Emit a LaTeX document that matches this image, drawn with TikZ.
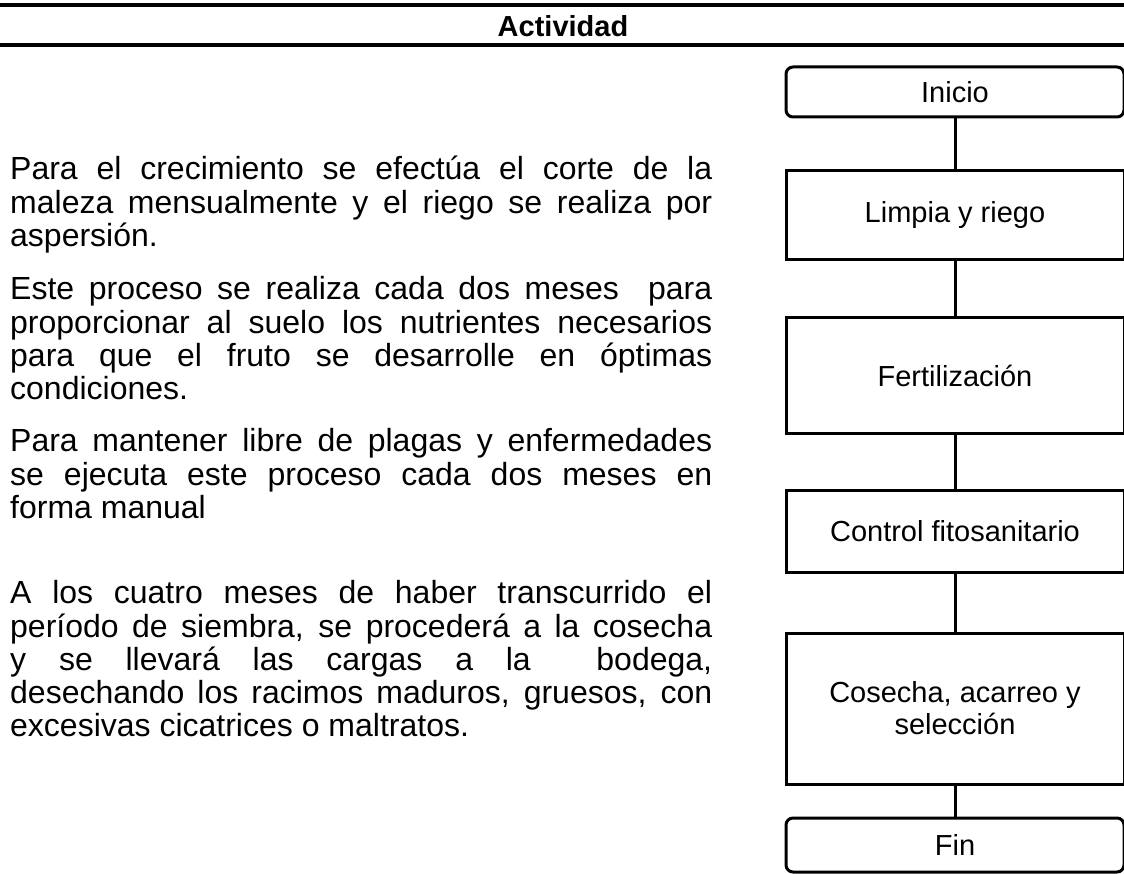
\documentclass[tikz,border=0pt]{standalone}
\usepackage{fontspec}
\setmainfont{Liberation Sans}
\usetikzlibrary{positioning}
\hyphenpenalty=10000

\tikzset{
  paso/.style={draw, line width=3pt, minimum width=338pt, align=center, inner sep=0pt,
    font=\fontsize{29}{32}\selectfont},
  extremo/.style={paso, rounded corners=7pt},
  parrafo/.style={anchor=north west, inner sep=0pt, text width=702pt, align=justify,
    font=\fontsize{32}{33}\selectfont},
  enlace/.style={line width=3pt},
}

\begin{document}
\begin{tikzpicture}[x=1pt, y=-1pt]
	\useasboundingbox (0,0) rectangle (1124,874);

	% cabecera
	\draw[line width=3.5pt] (0,5) -- (1124,5);
	\draw[line width=3.5pt] (0,45) -- (1124,45);
	\node[font=\fontsize{29}{30}\selectfont\bfseries] (titulo) at (563,26) {Actividad};

	% descripciones
	\node[parrafo] (p1) at (10,156) {\strut Para el crecimiento se efectúa el corte de la\linebreak
		maleza mensualmente y el riego se realiza por\linebreak aspersión.};
	\node[parrafo] (p2) at (10,276) {\strut Este proceso se realiza cada dos meses\ \ para\linebreak
		proporcionar al suelo los nutrientes necesarios\linebreak
		para que el fruto se desarrolle en óptimas\linebreak condiciones.};
	\node[parrafo] (p3) at (10,428) {\strut Para mantener libre de plagas y enfermedades\linebreak
		se ejecuta este proceso cada dos meses en\linebreak forma manual};
	\node[parrafo] (p4) at (10,580) {\strut A los cuatro meses de haber transcurrido el\linebreak
		período de siembra, se procederá a la cosecha\linebreak
		y se llevará las cargas a la\ \ bodega,\linebreak
		desechando los racimos maduros, gruesos, con\linebreak
		excesivas cicatrices o maltratos.};

	% diagrama de flujo
	\node[extremo, minimum height=50pt] (inicio) at (955,92) {Inicio};
	\node[paso, minimum height=89pt] (limpia) at (955,215.5) {Limpia y riego};
	\node[paso, minimum height=115pt] (fert) at (955,375.5) {Fertilización};
	\node[paso, minimum height=82pt] (control) at (955,531) {Control fitosanitario};
	\node[paso, minimum height=151pt] (cosecha) at (955,708.5) {Cosecha, acarreo y\\ selección};
	\node[extremo, minimum height=54pt] (fin) at (955,845) {Fin};

	\draw[enlace] (inicio) -- (limpia);
	\draw[enlace] (limpia) -- (fert);
	\draw[enlace] (fert) -- (control);
	\draw[enlace] (control) -- (cosecha);
	\draw[enlace] (cosecha) -- (fin);
\end{tikzpicture}
\end{document}
